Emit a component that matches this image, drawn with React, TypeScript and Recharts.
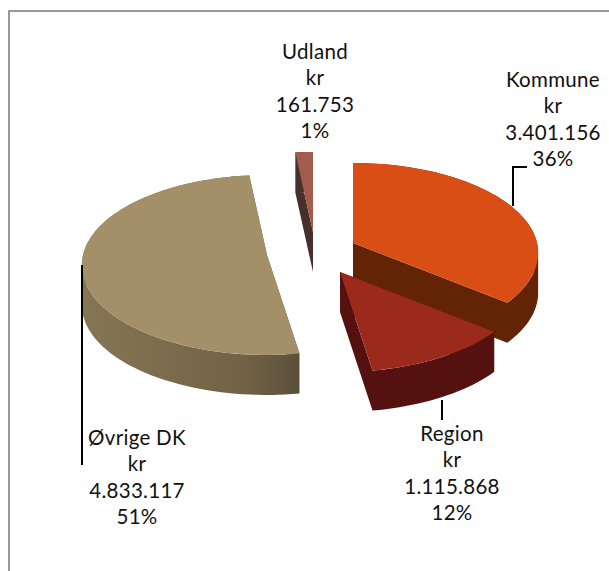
import React from 'react';
import { PieChart, Pie, Cell } from 'recharts';

const names = ['Kommune', 'Region', 'Øvrige DK', 'Udland'];
const values = [3401156, 1115868, 4833117, 161753];
const amounts = ['3.401.156', '1.115.868', '4.833.117', '161.753'];
const shares = ['36%', '12%', '51%', '1%'];

const topColors = ['#d84e14', '#9c2a1c', '#a39069', '#a25c4e'];
const sideColors = ['#622404', '#541110', 'url(#sideTan)', '#47302b'];

// where each exploded slice has its apex, relative to the pie centre
const CX = 304;
const CY = 250;
const explode = [
  { dx: 49, dy: -7 },
  { dx: 36, dy: 22 },
  { dx: -37, dy: 5 },
  { dx: 9, dy: -18 },
];

const labelPos = [
  { x: 553, y: 87 },
  { x: 452, y: 441 },
  { x: 137, y: 445 },
  { x: 315, y: 59 },
];
const leaders = [
  [[513, 206], [513, 167], [527, 167]],
  [[442, 400], [442, 420]],
  [[82, 265], [82, 465]],
  [],
];

const SQUASH = 0.483;
const PERSP = 0.111;
const DEPTH = 40;

// project a rim point of the flat disc into the tilted view
function project(angle: number, r: number, ox: number, oy: number) {
  const t = ((90 - angle) * Math.PI) / 180;
  const u = Math.sin(t);
  const f = -Math.cos(t);
  const w = 1 - PERSP * f;
  return [ox + (r * u) / w, oy + (r * SQUASH * f) / w];
}

function Slice3D(props: any) {
  const { cx, cy, outerRadius, startAngle, endAngle, index } = props;
  const ox = cx + explode[index].dx;
  const oy = cy + explode[index].dy;
  const n = Math.max(2, Math.ceil(Math.abs(endAngle - startAngle) / 2));
  const pts: number[][] = [[ox, oy]];
  for (let i = 0; i <= n; i++) {
    pts.push(project(startAngle + ((endAngle - startAngle) * i) / n, outerRadius, ox, oy));
  }
  const top = 'M' + pts.map((p) => `${p[0].toFixed(1)},${p[1].toFixed(1)}`).join('L') + 'Z';
  // one path for all wall quads, wound the same way so they don't cancel out
  let walls = '';
  pts.forEach((a, i) => {
    const b = pts[(i + 1) % pts.length];
    const [l, r] = a[0] <= b[0] ? [a, b] : [b, a];
    walls += `M${l[0]},${l[1]}L${r[0]},${r[1]}L${r[0]},${r[1] + DEPTH}L${l[0]},${l[1] + DEPTH}Z`;
  });
  return (
    <g>
      <path d={walls} fill={sideColors[index]} />
      <path d={top} fill={topColors[index]} />
    </g>
  );
}

function renderLabel(props: any) {
  const { index } = props;
  const pos = labelPos[index];
  const lines = [names[index], 'kr', amounts[index], shares[index]];
  const leader = leaders[index];
  return (
    <g key={index}>
      {leader.length > 0 && (
        <polyline
          points={leader.map((p) => p.join(',')).join(' ')}
          fill="none"
          stroke="#000"
          strokeWidth={2}
        />
      )}
      <text
        x={pos.x}
        textAnchor="middle"
        fontFamily="Lato, sans-serif"
        fontSize={20.5}
        letterSpacing={0.3}
        fill="#111"
      >
        {lines.map((s, i) => (
          <tspan key={i} x={pos.x} y={pos.y + i * 26.4}>
            {s}
          </tspan>
        ))}
      </text>
    </g>
  );
}

const data = names.map((name, i) => ({ name, value: values[i] }));

export default function App() {
  return (
    <div style={{ position: 'absolute', left: 0, top: 0, width: 609, height: 571, overflow: 'hidden', background: '#fff' }}>
      <div
        style={{
          position: 'absolute',
          left: 8,
          top: 10,
          width: 640,
          height: 600,
          border: '2px solid #999',
          boxSizing: 'border-box',
        }}
      />
      <PieChart width={609} height={571} margin={{ top: 0, right: 0, bottom: 0, left: 0 }} style={{ position: 'absolute', left: 0, top: 0 }}>
        <defs>
          <linearGradient id="sideTan" gradientUnits="userSpaceOnUse" x1="82" y1="0" x2="300" y2="0">
            <stop offset="0%" stopColor="#867654" />
            <stop offset="75%" stopColor="#716246" />
            <stop offset="100%" stopColor="#5a4f38" />
          </linearGradient>
        </defs>
        <Pie
          data={data}
          dataKey="value"
          nameKey="name"
          cx={CX}
          cy={CY}
          startAngle={90}
          endAngle={-270}
          innerRadius={0}
          outerRadius={184}
          stroke="none"
          shape={Slice3D}
          label={renderLabel}
          labelLine={false}
          isAnimationActive={false}
        >
          {data.map((d, i) => (
            <Cell key={d.name} fill={topColors[i]} />
          ))}
        </Pie>
      </PieChart>
    </div>
  );
}
